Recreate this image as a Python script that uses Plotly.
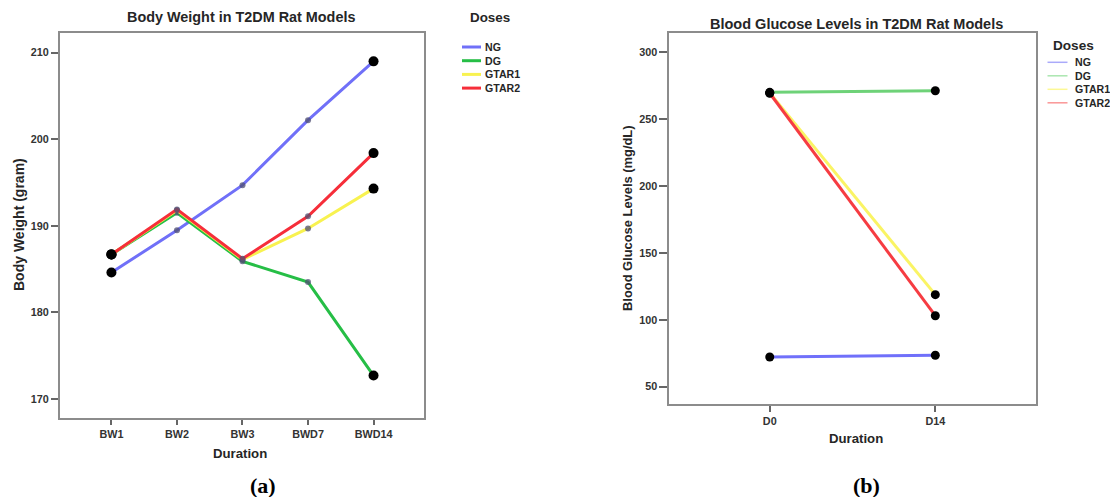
import plotly.graph_objects as go

W, H = 1110, 497

# ---------------- data ----------------
SERIES = ["NG", "DG", "GTAR1", "GTAR2"]

BW_CATS = ["BW1", "BW2", "BW3", "BWD7", "BWD14"]
BW_NG = [184.6, 189.5, 194.7, 202.2, 209.0]
BW_DG = [186.7, 191.5, 185.9, 183.5, 172.7]
BW_GTAR1 = [186.7, 191.8, 186.1, 189.7, 194.3]
BW_GTAR2 = [186.7, 191.9, 186.2, 191.1, 198.4]
BW_TICKS = [170, 180, 190, 200, 210]

BG_CATS = ["D0", "D14"]
BG_NG = [72.2, 73.5]
BG_DG = [269.7, 270.9]
BG_GTAR1 = [269.3, 118.7]
BG_GTAR2 = [269.0, 103.0]
BG_TICKS = [50, 100, 150, 200, 250, 300]

BW_VALUES = [BW_NG, BW_DG, BW_GTAR1, BW_GTAR2]
BG_VALUES = [BG_NG, BG_DG, BG_GTAR1, BG_GTAR2]

# ---------------- styles ----------------
COLORS_A = ["rgb(112,112,248)", "rgb(38,190,70)", "rgb(248,242,80)", "rgb(246,46,58)"]
COLORS_B = ["rgb(112,112,250)", "rgb(110,210,120)", "rgb(250,244,100)", "rgb(246,60,66)"]
LEG_B = ["rgb(170,170,250)", "rgb(170,230,175)", "rgb(252,248,150)", "rgb(250,150,150)"]
FONT = "Liberation Sans, Arial, sans-serif"
TXT = "#262626"


def px(x):
    return x / W


def py(y):
    return 1 - y / H


fig = go.Figure()

# panel (a)
for name, vals, col in zip(SERIES, BW_VALUES, COLORS_A):
    n = len(vals)
    mid = list(range(1, n - 1))
    ends = [0, n - 1]
    fig.add_trace(go.Scatter(
        x=BW_CATS, y=vals, name=name, mode="lines",
        line=dict(color=col, width=3),
        xaxis="x", yaxis="y", showlegend=False))
    fig.add_trace(go.Scatter(
        x=[BW_CATS[i] for i in mid], y=[vals[i] for i in mid], name=name,
        mode="markers", marker=dict(size=6, color="rgb(80,80,115)", opacity=0.75),
        xaxis="x", yaxis="y", showlegend=False))
    fig.add_trace(go.Scatter(
        x=[BW_CATS[i] for i in ends], y=[vals[i] for i in ends], name=name,
        mode="markers", marker=dict(size=10, color="black"),
        xaxis="x", yaxis="y", showlegend=False))

# panel (b)
for name, vals, col in zip(SERIES, BG_VALUES, COLORS_B):
    fig.add_trace(go.Scatter(
        x=BG_CATS, y=vals, name=name, mode="lines+markers",
        line=dict(color=col, width=3),
        marker=dict(size=9, color="black"),
        xaxis="x2", yaxis="y2", showlegend=False))

tickfont = dict(family=FONT, size=10.8, color="#333", weight="bold")
axcommon = dict(showline=True, mirror=True, linecolor="#8c8c8c", linewidth=2,
                showgrid=False, zeroline=False, ticks="outside",
                tickcolor="#666", tickwidth=1.5, tickfont=tickfont)

fig.update_layout(
    width=W, height=H, autosize=False,
    margin=dict(l=0, r=0, t=0, b=0),
    paper_bgcolor="white", plot_bgcolor="white",
    xaxis=dict(domain=[px(60), px(424)], anchor="y", type="category",
               range=[-0.785, 4.77], ticklen=5, **axcommon),
    yaxis=dict(domain=[py(418), py(33.3)], anchor="x",
               range=[167.8, 212.24], tickvals=BW_TICKS, ticklen=7, **axcommon),
    xaxis2=dict(domain=[px(669.4), px(1035.5)], anchor="y2", type="category",
                range=[-0.606, 1.605], ticklen=6, **axcommon),
    yaxis2=dict(domain=[py(404), py(32.7)], anchor="x2",
                range=[37.1, 314.2], tickvals=BG_TICKS, ticklen=8, **axcommon),
    showlegend=False,
)

ann = []
shapes = []


def text(x, y, s, size=13, angle=0, family=FONT, bold=True, color=TXT, xanchor="center"):
    ann.append(dict(x=px(x), y=py(y), xref="paper", yref="paper", text=s,
                    showarrow=False, textangle=angle, xanchor=xanchor, yanchor="middle",
                    font=dict(family=family, size=size, color=color,
                              weight="bold" if bold else "normal")))


# titles
text(241, 17, "Body Weight in T2DM Rat Models", 14.4)
text(856, 24, "Blood Glucose Levels in T2DM Rat Models", 14.5)
# axis titles
text(19, 225, "Body Weight (gram)", 14, angle=-90)
text(240, 453, "Duration", 13.2)
text(627, 218, "Blood Glucose Levels (mg/dL)", 12.9, angle=-90)
text(856, 438, "Duration", 13.2)
# panel labels
text(263, 485, "(a)", 22, family="Liberation Serif, Times New Roman, serif", color="black")
text(866, 485, "(b)", 22, family="Liberation Serif, Times New Roman, serif", color="black")

# legend (a)
text(490, 17, "Doses", 13.4)
for i, (name, col) in enumerate(zip(SERIES, COLORS_A)):
    y = 47 + i * 13.7
    shapes.append(dict(type="line", xref="paper", yref="paper",
                       x0=px(462), x1=px(481), y0=py(y), y1=py(y),
                       line=dict(color=col, width=3)))
    text(483, y, name, 10.6, xanchor="left")

# legend (b)
text(1073, 46, "Doses", 13.6)
for i, (name, col) in enumerate(zip(SERIES, LEG_B)):
    y = 62.3 + i * 13.5
    shapes.append(dict(type="line", xref="paper", yref="paper",
                       x0=px(1047.5), x1=px(1067.5), y0=py(y), y1=py(y),
                       line=dict(color=col, width=1.5)))
    text(1073, y, name, 10.6, xanchor="left")

fig.update_layout(annotations=ann, shapes=shapes)
fig.write_html(
    "out.html",
    config={"displayModeBar": False},
    post_script="document.body.style.margin='0';document.body.style.padding='0';"
                "document.documentElement.style.overflow='hidden';",
)
